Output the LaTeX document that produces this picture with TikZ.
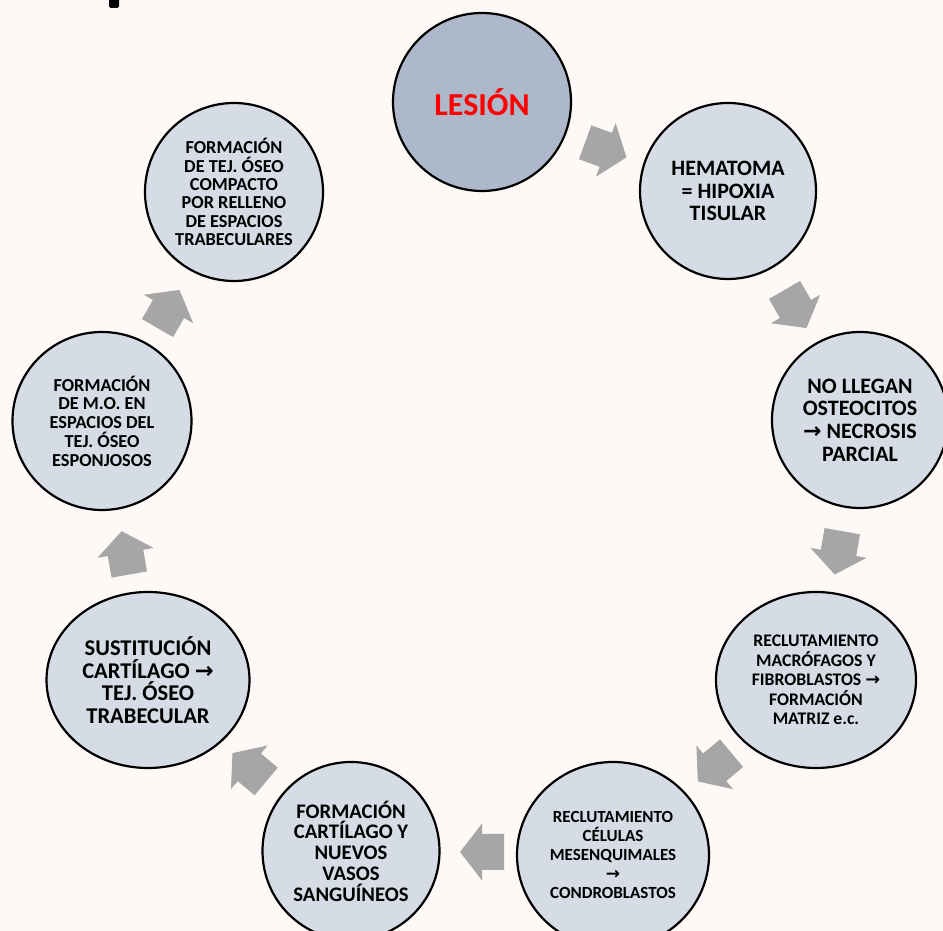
\documentclass[tikz,border=0pt]{standalone}
\usepackage{fontspec}
\setmainfont{Carlito}
\newfontfamily\arrfont{DejaVu Sans}
\usetikzlibrary{shapes.geometric,calc}
\definecolor{bgcol}{HTML}{FEF9F6}
\definecolor{nodefill}{HTML}{D6DCE5}
\definecolor{lesfill}{HTML}{ADB9CA}
\definecolor{arrgray}{HTML}{A6A6A6}
\newcommand\rarr{{\arrfont\bfseries →}}
\tikzset{
  stage/.style={ellipse, draw=black, line width=2.2pt, fill=nodefill, inner sep=0pt,
    align=center, text=black},
  blockarrow/.style={fill=arrgray, draw=none},
}
\begin{document}
\begin{tikzpicture}[x=1pt,y=1pt]
\fill[bgcol] (0,0) rectangle (943,931);
\useasboundingbox (0,0) rectangle (943,931);
% small cut-off black mark at top
\fill[black, rounded corners=1.5pt] (109,923) rectangle (119,934);

\coordinate (ring) at (482,441);

% arrows
\foreach \a in {70,30,-10,-50,-90,-130,-170,150}{
  \begin{scope}[shift={($(ring)+(\a:362)$)}, rotate=\a-90]
    \fill[blockarrow] (-22,-18) -- (0,-18) -- (0,-28.5) -- (22,0) -- (0,28.5) -- (0,18) -- (-22,18) -- cycle;
  \end{scope}
}

\node[stage, fill=lesfill, minimum width=178pt, minimum height=178pt,
  font=\bfseries\fontsize{32}{36}\selectfont, text={rgb,255:red,255;green,0;blue,0}] (les) at (482,829) {LESIÓN};

\node[stage, minimum width=176pt, minimum height=176pt,
  font=\bfseries\fontsize{22}{22.5}\selectfont] (hem) at (728,740)
  {HEMATOMA\\= HIPOXIA\\TISULAR};

\node[stage, minimum width=176pt, minimum height=176pt,
  font=\bfseries\fontsize{22}{22.7}\selectfont] (nol) at (860,511)
  {NO LLEGAN\\OSTEOCITOS\\\rarr{} NECROSIS\\PARCIAL};

\node[stage, minimum width=200pt, minimum height=176pt,
  font=\bfseries\fontsize{17.7}{19.5}\selectfont] (mac) at (816,251)
  {RECLUTAMIENTO\\MACRÓFAGOS Y\\FIBROBLASTOS \rarr\\FORMACIÓN\\MATRIZ e.c.};

\node[stage, minimum width=192pt, minimum height=186pt,
  font=\bfseries\fontsize{17}{19}\selectfont] (cel) at (613,76)
  {RECLUTAMIENTO\\CÉLULAS\\MESENQUIMALES\\\rarr\\CONDROBLASTOS};

\node[stage, minimum width=177pt, minimum height=178pt,
  font=\bfseries\fontsize{20.7}{20.7}\selectfont] (car) at (351,80)
  {FORMACIÓN\\CARTÍLAGO Y\\NUEVOS\\VASOS\\SANGUÍNEOS};

\node[stage, minimum width=203pt, minimum height=176pt,
  font=\bfseries\fontsize{22.5}{22.7}\selectfont] (sus) at (148,251)
  {SUSTITUCIÓN\\CARTÍLAGO \rarr\\TEJ. ÓSEO\\TRABECULAR};

\node[stage, minimum width=179pt, minimum height=178pt,
  font=\bfseries\fontsize{18.3}{18.7}\selectfont] (mo) at (102,510)
  {FORMACIÓN\\DE M.O. EN\\ESPACIOS DEL\\TEJ. ÓSEO\\ESPONJOSOS};

\node[stage, minimum width=178pt, minimum height=178pt,
  font=\bfseries\fontsize{18.3}{18.4}\selectfont] (com) at (234,739)
  {FORMACIÓN\\DE TEJ. ÓSEO\\COMPACTO\\POR RELLENO\\DE ESPACIOS\\TRABECULARES};
\end{tikzpicture}
\end{document}
